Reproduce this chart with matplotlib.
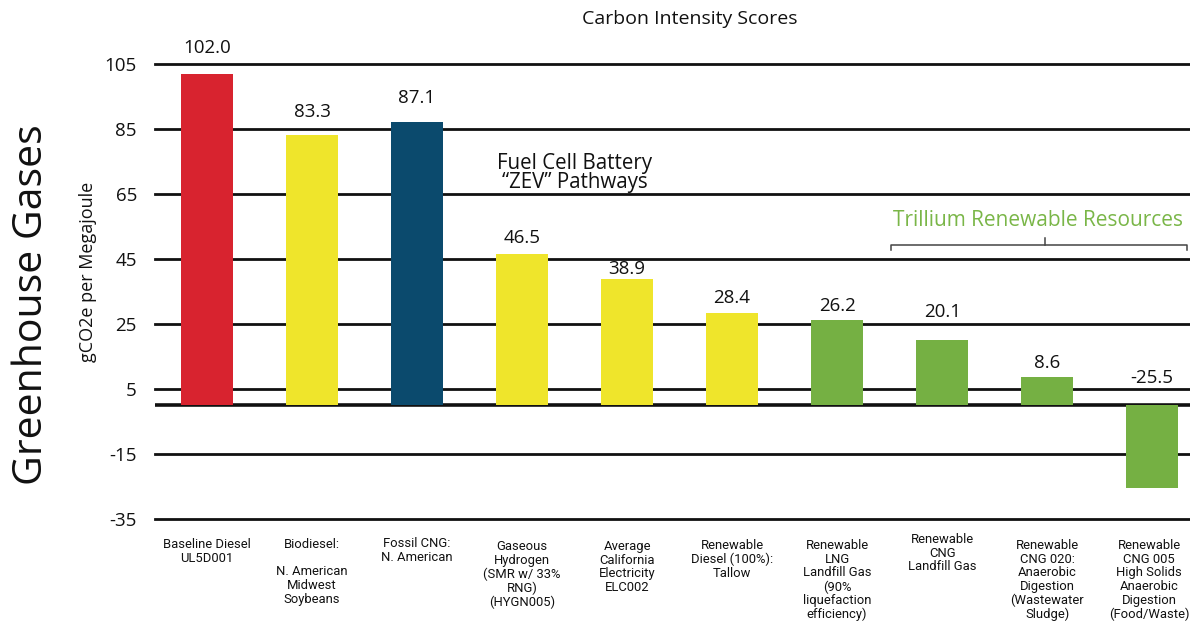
import numpy as np
import matplotlib.pyplot as plt

plt.rcParams['font.family'] = ['Open Sans', 'DejaVu Sans']
plt.rcParams['axes.unicode_minus'] = False

# data
categories = ['Baseline Diesel\nUL5D001',
              'Biodiesel:\n\nN. American\nMidwest\nSoybeans',
              'Fossil CNG:\nN. American',
              'Gaseous\nHydrogen\n(SMR w/ 33%\nRNG)\n(HYGN005)',
              'Average\nCalifornia\nElectricity\nELC002',
              'Renewable\nDiesel (100%):\nTallow',
              'Renewable\nLNG\nLandfill Gas\n(90%\nliquefaction\nefficiency)',
              'Renewable\nCNG\nLandfill Gas',
              'Renewable\nCNG 020:\nAnaerobic\nDigestion\n(Wastewater\nSludge)',
              'Renewable\nCNG 005\nHigh Solids\nAnaerobic\nDigestion\n(Food/Waste)']
scores = [102.0, 83.3, 87.1, 46.5, 38.9, 28.4, 26.2, 20.1, 8.6, -25.5]
groups = ['base', 'alt', 'fossil', 'alt', 'alt', 'alt', 'trillium', 'trillium', 'trillium', 'trillium']
yticks = [105, 85, 65, 45, 25, 5, -15, -35]

colors = {'base': '#d8232f', 'alt': '#efe52b', 'fossil': '#0b4a6d', 'trillium': '#75b043'}
value_dy = [26, 23, 24, 16, 10, 15, 14, 28, 14, 27]    # px above bar top (label centre)
label_dy = [19, 19, 18, 21, 21, 20, 20, 14, 20, 20]    # px below axis bottom
label_dx = [0, 0, 0, 0, 0, 0, 0, 0, 0, -3]

fig = plt.figure(figsize=(11.9, 6.22), dpi=100)
ax = fig.add_axes([155/1190, 103/622, 1035/1190, 455/622])

x = np.arange(len(scores))
for yt in yticks:
    ax.axhline(yt, color='#111111', lw=2, zorder=1, clip_on=False)
ax.axhline(0, color='#111111', lw=2.6, zorder=1)
ax.bar(x, scores, width=0.5, color=[colors[g] for g in groups], zorder=2)

for xi, v, dy in zip(x, scores, value_dy):
    ax.annotate(f'{v:.1f}', (xi, max(v, 0)), xytext=(0, dy), textcoords='offset pixels',
                ha='center', va='center', fontsize=13.5, color='#111111')

for xi, lab, dx, dy in zip(x, categories, label_dx, label_dy):
    ax.annotate(lab, (xi, -35), xytext=(dx, -dy), textcoords='offset pixels',
                ha='center', va='top', fontsize=9.4, linespacing=1.07,
                family=['Roboto', 'DejaVu Sans'], color='#111111', annotation_clip=False)

ax.set_xlim(-0.495, 9.36)
ax.set_ylim(-35, 105)
ax.set_yticks(yticks)
ax.tick_params(axis='y', length=0, labelsize=13.5, pad=13, labelcolor='#111111')
ax.set_xticks([])
for s in ax.spines.values():
    s.set_visible(False)

ax.text(3.5, 71.5, 'Fuel Cell Battery\n\u201cZEV\u201d Pathways', ha='center', va='center',
        fontsize=14.8, linespacing=0.92, color='#111111')

ax.text(7.91, 57.0, 'Trillium Renewable Resources', ha='center', va='center',
        fontsize=15, color='#7ab648')
ax.plot([6.51, 6.51, 9.33, 9.33], [47.8, 49.3, 49.3, 47.8], color='#444444', lw=1.1,
        zorder=3, clip_on=False)
ax.plot([7.98, 7.98], [49.3, 51.6], color='#444444', lw=1.1, zorder=3)

fig.text(690/1190, 1 - 19/622, 'Carbon Intensity Scores', ha='center', va='center',
         fontsize=14, color='#111111')
fig.text(32/1190, 1 - 305/622, 'Greenhouse Gases', ha='center', va='center',
         rotation=90, fontsize=29.5, color='#111111')
fig.text(88/1190, 1 - 272/622, 'gCO2e per Megajoule', ha='center', va='center',
         rotation=90, fontsize=13, color='#111111')

fig.savefig('out.png', dpi=100)
